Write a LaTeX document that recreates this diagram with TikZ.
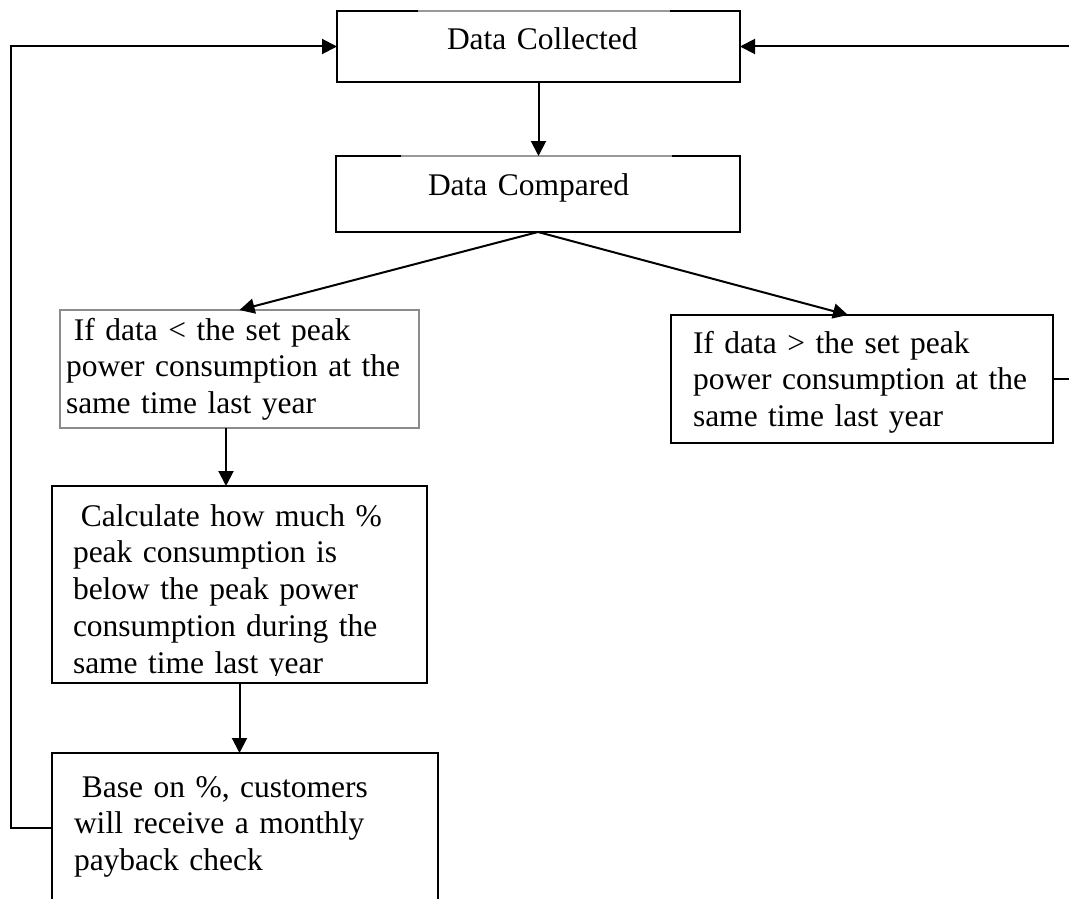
\documentclass[tikz,border=0pt]{standalone}
\usepackage{fontspec}
\setmainfont{Liberation Serif}
\usetikzlibrary{arrows.meta,calc}
\begin{document}
\begin{tikzpicture}[x=1pt,y=-1pt,
  box/.style={draw=black, line width=2pt, rectangle, inner sep=0pt, outer sep=0pt, anchor=north west},
  graybox/.style={box, draw=black!45},
  txt/.style={inner sep=0pt, outer sep=0pt, anchor=north west, align=left, text width=380pt, font=\fontsize{31.5}{36.8}\selectfont},
  conn/.style={line width=2pt, -{Triangle[length=15pt,width=15pt]}},
  topgray/.style={draw=black!40, line width=2pt}
]
\useasboundingbox (0,0) rectangle (1069,899);
\clip (0,0) rectangle (1069,899);
\fill[white] (0,0) rectangle (1069,899);

% boxes
\node[box, minimum width=403pt, minimum height=71pt] (DC) at (337,11) {};
\node[box, minimum width=404pt, minimum height=76pt] (CMP) at (336,156) {};
\node[graybox, minimum width=359pt, minimum height=118pt] (LB) at (60,310) {};
\node[box, minimum width=375pt, minimum height=197pt] (CA) at (52,486) {};
\node[box, minimum width=386pt, minimum height=165pt] (BA) at (52,753) {};
\node[box, minimum width=382pt, minimum height=128pt] (RB) at (671,315) {};

% lighter segments on the top borders
\draw[topgray] ($(DC.north west)+(81,0)$) -- ($(DC.north west)+(333,0)$);
\draw[topgray] ($(CMP.north west)+(65,0)$) -- ($(CMP.north west)+(336,0)$);

% texts
\node[txt] (DCt) at (447,24.24) {\strut Data Collected};
\node[txt] (CMPt) at (428,169.24) {\strut Data Compared};
\node[txt] (LBt) at (66,314.24) {\strut\hspace*{0.25em}If data < the set peak\\power consumption at the\\same time last year};
\node[txt] (RBt) at (693,327.24) {\strut If data > the set peak\\power consumption at the\\same time last year};
\begin{scope}
  \clip (CA.north west) rectangle ($(CA.south east)+(0,-8)$);
  \node[txt] (CAt) at (73,500.24) {\strut\hspace*{0.25em}Calculate how much \%\\peak consumption is\\below the peak power\\consumption during the\\same time last year};
\end{scope}
\node[txt] (BAt) at (74,771.24) {\strut\hspace*{0.25em}Base on \%, customers\\will receive a monthly\\payback check};

% connectors
\draw[conn] (DC.south) -- (DC.south |- CMP.north);
\draw[conn] (CMP.south) -- (LB.north);
\draw[conn] (CMP.south) -- ($(RB.north)+(-14,0)$);
\coordinate (lbout) at ($(LB.south)+(-13.5,0)$);
\draw[conn] (lbout) -- (lbout |- CA.north);
\draw[conn] (CA.south) -- (CA.south |- BA.north);
\draw[conn] ($(BA.north west)+(0,75)$) -- ++(-41,0) |- (DC.west);
\draw[conn] ($(RB.north east)+(0,64)$) -- ++(40,0) |- (DC.east);
\end{tikzpicture}
\end{document}
